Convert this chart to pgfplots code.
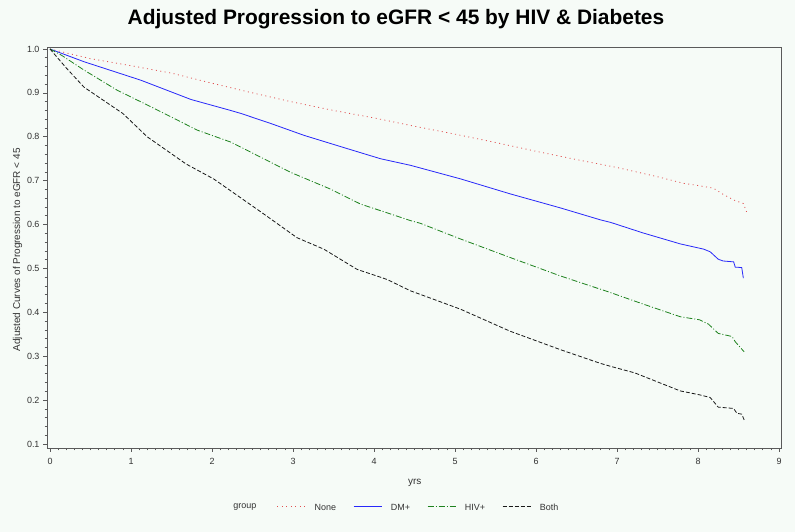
\documentclass[border=0pt]{standalone}
\usepackage{fontspec}
\setmainfont{Liberation Sans}
\usepackage{pgfplots}
\pgfplotsset{compat=1.18}
\definecolor{bg}{RGB}{246,251,247}
\definecolor{nonec}{RGB}{225,80,80}
\definecolor{dmc}{RGB}{40,40,250}
\definecolor{hivc}{RGB}{30,130,30}
\definecolor{bothc}{RGB}{25,25,25}
\definecolor{framec}{RGB}{90,90,90}
\begin{document}
\begin{tikzpicture}[x=1bp,y=1bp]
\fill[bg] (0,0) rectangle (795,532);
\useasboundingbox (0,0) rectangle (795,532);
\node[font=\fontsize{21}{24}\selectfont\bfseries] at (396,513) {Adjusted Progression to eGFR < 45 by HIV \& Diabetes};
\begin{axis}[
  at={(47bp,84bp)}, anchor=south west,
  scale only axis, width=734bp, height=401bp,
  xmin=-0.037, xmax=9.025, ymin=0.0909, ymax=1.0046,
  xtick={0,1,2,3,4,5,6,7,8,9},
  ytick={0.1,0.2,0.3,0.4,0.5,0.6,0.7,0.8,0.9,1.0},
  yticklabel style={/pgf/number format/.cd, fixed, fixed zerofill, precision=1},
  minor x tick num=9, minor y tick num=4,
  tick align=outside, xtick pos=bottom, ytick pos=left,
  major tick length=4bp, minor tick length=2.5bp,
  tick style={draw=framec, line width=0.6bp},
  axis line style={draw=framec, line width=0.8bp},
  axis background/.style={fill=bg},
  tick label style={font=\fontsize{9}{10}\selectfont, text=black!80},
  /pgf/number format/assume math mode=true,
  xticklabel style={yshift=-3bp},
  xlabel={yrs},
  ylabel={Adjusted Curves of Progression to eGFR < 45},
  label style={font=\fontsize{10}{12}\selectfont, text=black!80},
  xlabel style={at={(axis description cs:0.501,-0.087)}, anchor=center},
  ylabel style={at={(axis description cs:-0.040,0.494)}, anchor=center},
  legend columns=4,
  legend image code/.code={\draw[#1, draw opacity=1] (0bp,0bp) -- (28bp,0bp);},
  legend style={draw opacity=0, fill opacity=0, text opacity=1, at={(axis description cs:0.313,-0.146)}, anchor=west,
    font=\fontsize{9}{10}\selectfont, inner sep=0pt, text=black!80,
    nodes={text height=1.6ex, text depth=0.2ex},
    /tikz/every odd column/.append style={column sep=7bp},
    /tikz/every even column/.append style={column sep=15bp}},
  clip=false,
]
\addplot[draw=nonec, line width=0.8bp, dash pattern=on 1bp off 3.5bp] coordinates {
(0,1.0) (0.5,0.978) (1,0.962) (1.5,0.945) (2,0.922) (2.5,0.900) (3,0.879) (3.5,0.860) (4,0.843) (4.5,0.824) (5,0.806) (5.5,0.787) (6,0.767) (6.5,0.748) (7,0.730) (7.5,0.709) (7.82,0.694) (8.0,0.689) (8.19,0.683) (8.3,0.670) (8.44,0.656) (8.56,0.648) (8.60,0.629)
};
\addlegendentry{None}
\addplot[draw=dmc, line width=0.8bp] coordinates {
(0,1.0) (0.42,0.971) (1.12,0.929) (1.74,0.885) (2.23,0.860) (2.36,0.853) (2.73,0.830) (3.14,0.803) (3.67,0.773) (4.08,0.750) (4.45,0.735) (4.57,0.729) (5.07,0.704) (5.68,0.670) (6.30,0.638) (6.79,0.611) (6.92,0.605) (7.32,0.581) (7.78,0.556) (8.07,0.544) (8.15,0.538) (8.25,0.521) (8.31,0.517) (8.44,0.515) (8.46,0.503) (8.54,0.502) (8.56,0.478)
};
\addlegendentry{DM+}
\addplot[draw=hivc, line width=0.8bp, dash pattern=on 6bp off 2bp on 1bp off 2bp] coordinates {
(0,1.0) (0.14,0.986) (0.42,0.952) (0.83,0.906) (1.25,0.868) (1.82,0.815) (2.23,0.788) (2.36,0.776) (2.97,0.719) (3.46,0.681) (3.83,0.647) (4.45,0.609) (4.57,0.603) (5.07,0.567) (5.68,0.525) (6.30,0.483) (6.79,0.453) (6.92,0.445) (7.32,0.419) (7.78,0.390) (8.02,0.383) (8.13,0.373) (8.25,0.352) (8.42,0.345) (8.46,0.333) (8.57,0.310)
};
\addlegendentry{HIV+}
\addplot[draw=bothc, line width=0.8bp, dash pattern=on 4bp off 2bp] coordinates {
(0,1.0) (0.2,0.957) (0.42,0.913) (0.90,0.853) (1.2,0.80) (1.68,0.738) (2.02,0.704) (2.23,0.677) (2.64,0.624) (3.05,0.570) (3.38,0.544) (3.79,0.498) (4.16,0.475) (4.45,0.449) (4.57,0.441) (5.07,0.407) (5.68,0.357) (6.30,0.315) (6.79,0.284) (6.92,0.277) (7.22,0.262) (7.78,0.221) (8.02,0.212) (8.15,0.206) (8.25,0.184) (8.44,0.181) (8.48,0.170) (8.54,0.168) (8.57,0.155)
};
\addlegendentry{Both}
\node[font=\fontsize{9}{10}\selectfont, text=black!80, anchor=center] at (axis description cs:0.2695,-0.146) {group};
\end{axis}
\end{tikzpicture}
\end{document}
